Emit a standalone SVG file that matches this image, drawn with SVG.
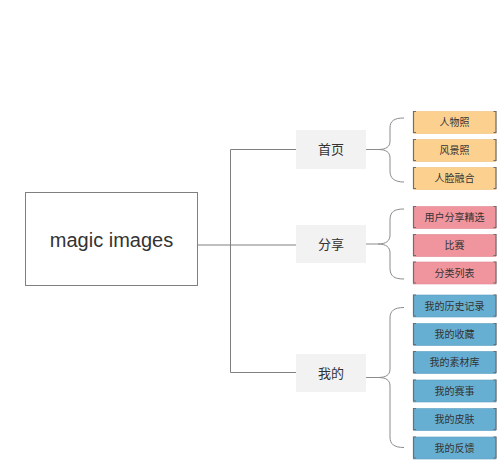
<svg xmlns="http://www.w3.org/2000/svg" width="497" height="460" viewBox="0 0 497 460">
<style>
text{font-family:"Liberation Sans","Noto Sans CJK SC",sans-serif;fill:#333;text-anchor:middle}
.main{font-size:20px}
.l1{font-size:13px}
.leaf{font-size:10px}
.l1box{fill:#f2f2f2;stroke:none}
.ln{fill:none;stroke:#808080;stroke-width:1}
.br{fill:none;stroke:#8c8c8c;stroke-width:1}
.side{fill:none;stroke:#6e6e6e;stroke-width:1.2}
.o{fill:#fcd190;stroke:#f0c07a;stroke-width:0.6}
.p{fill:#f0959e;stroke:#e08590;stroke-width:0.6}
.b{fill:#67afd2;stroke:#5a9fc2;stroke-width:0.6}
</style>
<rect width="497" height="460" fill="#fff"/>
<g id="connectors">
<path class="ln" d="M197.5,245 H230.5 M230.5,149.5 V372.5 M230.5,149.5 H296 M230.5,245 H296 M230.5,372.5 H296"/>
<path class="br" d="M366,149.5 H378 C386,149.5 390,147 390,141 V128 C390,121 394,118 404,118 M378,149.5 C386,149.5 390,152 390,158 V171 C390,178 394,182 404,182"/>
<path class="br" d="M366,244 H378 C386,244 390,241 390,235 V220 C390,212 394,209 404,209 M378,244 C386,244 390,247 390,253 V268 C390,276 394,279 404,279"/>
<path class="br" d="M366,377.5 H378 C386,377.5 390,375 390,369 V318 C390,311 394,307.5 404,307.5 M378,377.5 C386,377.5 390,380 390,386 V437 C390,444 394,447.5 404,447.5"/>
</g>
<g id="root">
<rect x="25.5" y="192.5" width="172" height="93" fill="#fff" stroke="#808080" stroke-width="1"/>
<text class="main" x="111.5" y="246.5">magic images</text>
</g>
<g id="n-home"><rect class="l1box" x="296" y="130" width="70" height="39"/><text class="l1" x="331" y="154">首页</text></g>
<g id="n-share"><rect class="l1box" x="296" y="225" width="70" height="38"/><text class="l1" x="331" y="248.5">分享</text></g>
<g id="n-mine"><rect class="l1box" x="296" y="354" width="70" height="38"/><text class="l1" x="331" y="377.5">我的</text></g>
<defs>
<path id="sides" class="side" d="M416,0.5 H413.5 V21.5 H416 M493.5,0.5 H496 V21.5 H493.5"/>
</defs>
<g id="l-1"><rect class="o" x="413.5" y="111.5" width="82.5" height="22"/><use href="#sides" y="111"/><text class="leaf" x="454.5" y="126">人物照</text></g>
<g id="l-2"><rect class="o" x="413.5" y="139.5" width="82.5" height="22"/><use href="#sides" y="139"/><text class="leaf" x="454.5" y="154">风景照</text></g>
<g id="l-3"><rect class="o" x="413.5" y="167.5" width="82.5" height="22"/><use href="#sides" y="167"/><text class="leaf" x="454.5" y="182">人脸融合</text></g>
<g id="l-4"><rect class="p" x="413.5" y="206.5" width="82.5" height="22"/><use href="#sides" y="206"/><text class="leaf" x="454.5" y="221">用户分享精选</text></g>
<g id="l-5"><rect class="p" x="413.5" y="234.5" width="82.5" height="22"/><use href="#sides" y="234"/><text class="leaf" x="454.5" y="249">比赛</text></g>
<g id="l-6"><rect class="p" x="413.5" y="262" width="82.5" height="22"/><use href="#sides" y="261.5"/><text class="leaf" x="454.5" y="276.5">分类列表</text></g>
<g id="l-7"><rect class="b" x="413.5" y="295" width="82.5" height="22"/><use href="#sides" y="294.5"/><text class="leaf" x="454.5" y="309.5">我的历史记录</text></g>
<g id="l-8"><rect class="b" x="413.5" y="323.5" width="82.5" height="22"/><use href="#sides" y="323"/><text class="leaf" x="454.5" y="338">我的收藏</text></g>
<g id="l-9"><rect class="b" x="413.5" y="351.5" width="82.5" height="22"/><use href="#sides" y="351"/><text class="leaf" x="454.5" y="366">我的素材库</text></g>
<g id="l-10"><rect class="b" x="413.5" y="380" width="82.5" height="22"/><use href="#sides" y="379.5"/><text class="leaf" x="454.5" y="394.5">我的赛事</text></g>
<g id="l-11"><rect class="b" x="413.5" y="408.5" width="82.5" height="22"/><use href="#sides" y="408"/><text class="leaf" x="454.5" y="423">我的皮肤</text></g>
<g id="l-12"><rect class="b" x="413.5" y="437" width="82.5" height="22"/><use href="#sides" y="436.5"/><text class="leaf" x="454.5" y="451.5">我的反馈</text></g>
</svg>
